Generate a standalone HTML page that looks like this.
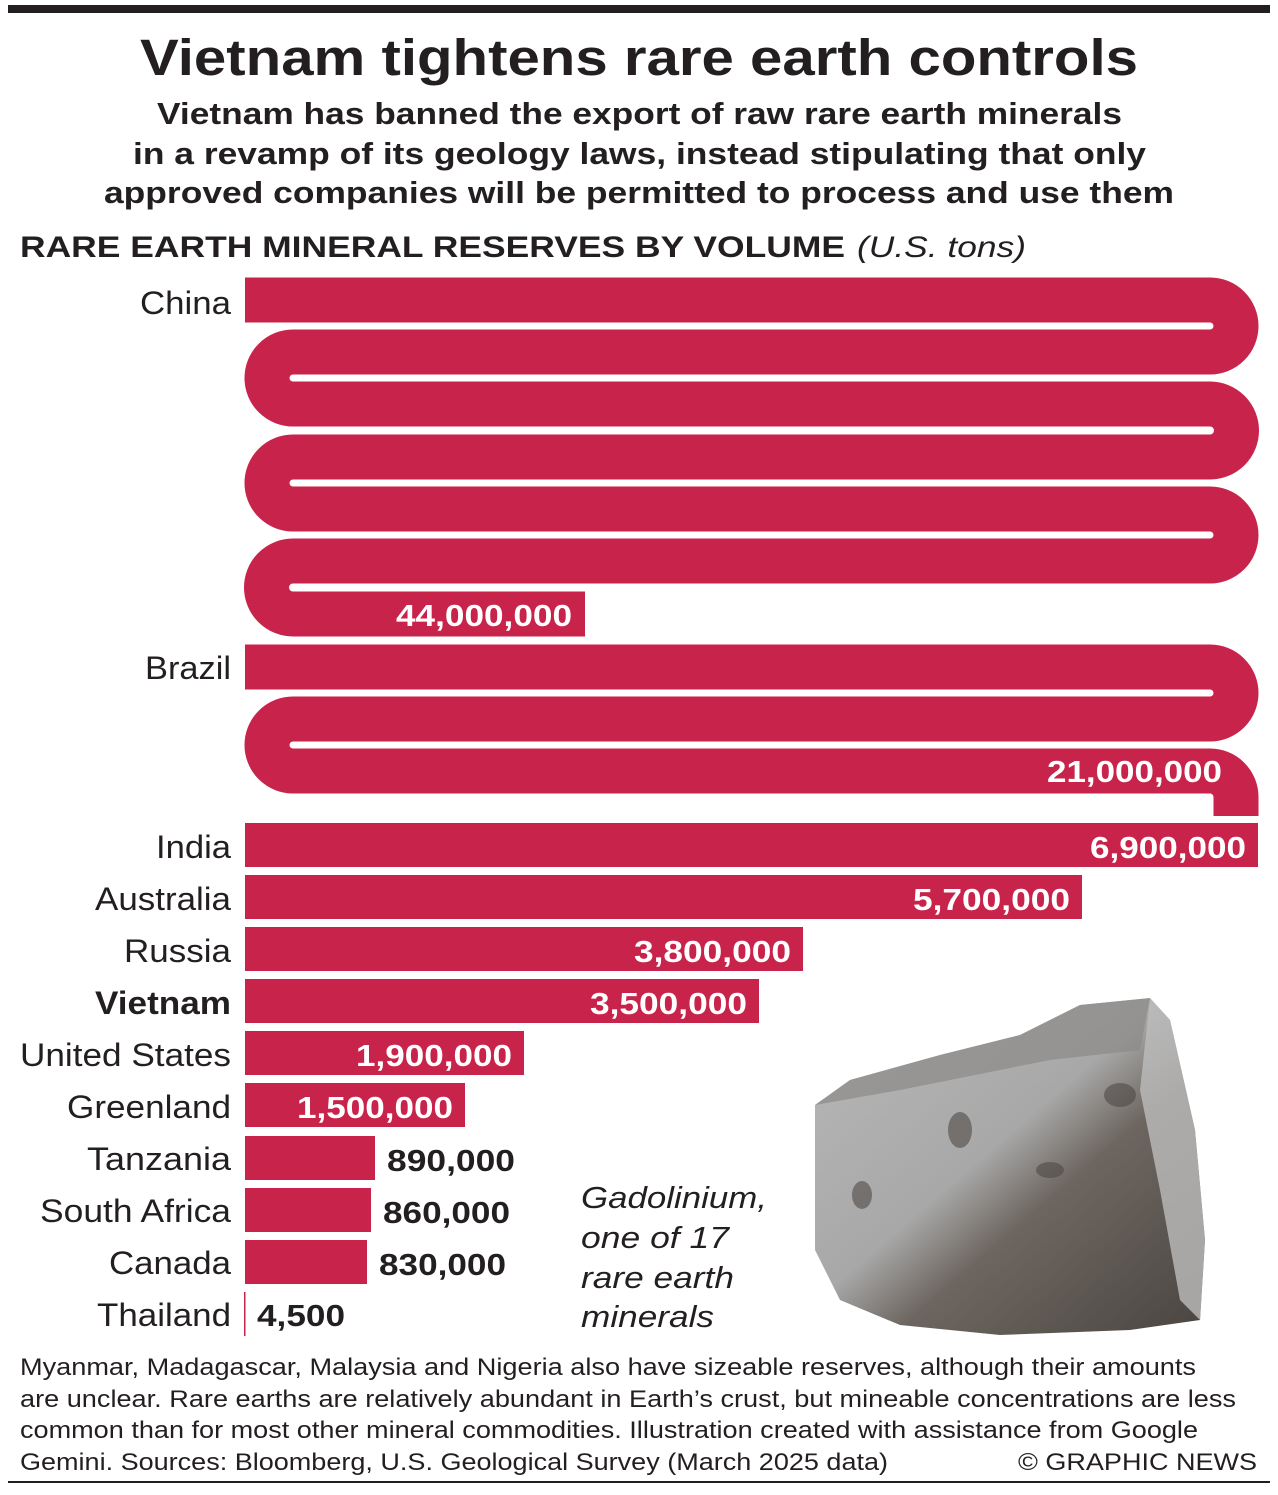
<!DOCTYPE html>
<html><head><meta charset="utf-8"><style>
body{margin:0;background:#fff;}
svg text{font-family:"Liberation Sans",Arial,sans-serif;}
</style></head><body>
<svg width="1278" height="1490" viewBox="0 0 1278 1490" xmlns="http://www.w3.org/2000/svg">
<defs>
<linearGradient id="rk" x1="0" y1="0" x2="1" y2="1">
<stop offset="0" stop-color="#b8b8b8"/><stop offset="0.45" stop-color="#a8a8a8"/><stop offset="0.6" stop-color="#6d6660"/><stop offset="1" stop-color="#4a4541"/></linearGradient>
</defs>
<rect x="8" y="5" width="1262" height="8" fill="#231f20"/>
<text x="140" y="75" font-size="51" font-weight="bold" fill="#231f20" textLength="998" lengthAdjust="spacingAndGlyphs">Vietnam tightens rare earth controls</text>
<g font-size="31" font-weight="bold" fill="#231f20">
<text x="157" y="124" textLength="965" lengthAdjust="spacingAndGlyphs">Vietnam has banned the export of raw rare earth minerals</text>
<text x="133" y="164" textLength="1013" lengthAdjust="spacingAndGlyphs">in a revamp of its geology laws, instead stipulating that only</text>
<text x="104" y="203" textLength="1070" lengthAdjust="spacingAndGlyphs">approved companies will be permitted to process and use them</text>
</g>
<text x="20" y="257" font-size="30" font-weight="bold" fill="#231f20" textLength="825" lengthAdjust="spacingAndGlyphs">RARE EARTH MINERAL RESERVES BY VOLUME</text>
<text x="857" y="257" font-size="30" font-style="italic" fill="#231f20" textLength="169" lengthAdjust="spacingAndGlyphs">(U.S. tons)</text>
<g fill="none" stroke="#c8234a" stroke-width="45">
<path d="M245 300 H1210 A26 26 0 0 1 1210 352 H293 A26 26 0 0 0 293 404 H1210 A26.5 26.5 0 0 1 1210 457 H293 A26 26 0 0 0 293 509 H1210 A26 26 0 0 1 1210 561 H293 A26.5 26.5 0 0 0 293 614 H585"/>
<path d="M245 667 H1210 A26 26 0 0 1 1210 719 H293 A26 26 0 0 0 293 771 H1210 A26 26 0 0 1 1236 797 V816"/>
</g>
<g fill="#c8234a">
<rect x="245" y="823" width="1013" height="44"/>
<rect x="245" y="875" width="837" height="44"/>
<rect x="245" y="927" width="558" height="44"/>
<rect x="245" y="979" width="514" height="44"/>
<rect x="245" y="1031" width="279" height="44"/>
<rect x="245" y="1083" width="220" height="44"/>
<rect x="245" y="1136" width="130" height="44"/>
<rect x="245" y="1188" width="126" height="44"/>
<rect x="245" y="1240" width="122" height="44"/>
<rect x="244" y="1292" width="1.5" height="44"/>
</g>
<g font-size="32" fill="#231f20" lengthAdjust="spacingAndGlyphs">
<text x="140" y="314" textLength="91" lengthAdjust="spacingAndGlyphs">China</text>
<text x="145" y="679" textLength="86" lengthAdjust="spacingAndGlyphs">Brazil</text>
<text x="156" y="858" textLength="75" lengthAdjust="spacingAndGlyphs">India</text>
<text x="95" y="910" textLength="136" lengthAdjust="spacingAndGlyphs">Australia</text>
<text x="124" y="962" textLength="107" lengthAdjust="spacingAndGlyphs">Russia</text>
<text x="95" y="1014" font-weight="bold" textLength="136" lengthAdjust="spacingAndGlyphs">Vietnam</text>
<text x="20" y="1066" textLength="211" lengthAdjust="spacingAndGlyphs">United States</text>
<text x="67" y="1118" textLength="164" lengthAdjust="spacingAndGlyphs">Greenland</text>
<text x="87" y="1170" textLength="144" lengthAdjust="spacingAndGlyphs">Tanzania</text>
<text x="40" y="1222" textLength="191" lengthAdjust="spacingAndGlyphs">South Africa</text>
<text x="109" y="1274" textLength="122" lengthAdjust="spacingAndGlyphs">Canada</text>
<text x="97" y="1326" textLength="134" lengthAdjust="spacingAndGlyphs">Thailand</text>
</g>
<g font-size="31" font-weight="bold" fill="#fff">
<text x="396" y="626" textLength="176" lengthAdjust="spacingAndGlyphs">44,000,000</text>
<text x="1047" y="782" textLength="175" lengthAdjust="spacingAndGlyphs">21,000,000</text>
<text x="1090" y="858" textLength="156" lengthAdjust="spacingAndGlyphs">6,900,000</text>
<text x="913" y="910" textLength="157" lengthAdjust="spacingAndGlyphs">5,700,000</text>
<text x="634" y="962" textLength="157" lengthAdjust="spacingAndGlyphs">3,800,000</text>
<text x="590" y="1014" textLength="157" lengthAdjust="spacingAndGlyphs">3,500,000</text>
<text x="356" y="1066" textLength="156" lengthAdjust="spacingAndGlyphs">1,900,000</text>
<text x="297" y="1118" textLength="156" lengthAdjust="spacingAndGlyphs">1,500,000</text>
</g>
<g font-size="31" font-weight="bold" fill="#231f20">
<text x="387" y="1171" textLength="128" lengthAdjust="spacingAndGlyphs">890,000</text>
<text x="383" y="1223" textLength="127" lengthAdjust="spacingAndGlyphs">860,000</text>
<text x="379" y="1275" textLength="127" lengthAdjust="spacingAndGlyphs">830,000</text>
<text x="257" y="1326" textLength="88" lengthAdjust="spacingAndGlyphs">4,500</text>
</g>
<g font-size="31" font-style="italic" fill="#231f20">
<text x="581" y="1208" textLength="186" lengthAdjust="spacingAndGlyphs">Gadolinium,</text>
<text x="581" y="1248" textLength="148" lengthAdjust="spacingAndGlyphs">one of 17</text>
<text x="581" y="1288" textLength="153" lengthAdjust="spacingAndGlyphs">rare earth</text>
<text x="581" y="1327" textLength="133" lengthAdjust="spacingAndGlyphs">minerals</text>
</g>
<polygon points="815,1105 850,1080 940,1055 1020,1035 1080,1005 1150,998 1170,1020 1195,1130 1205,1240 1200,1320 1130,1330 1000,1335 900,1325 840,1300 815,1250" fill="url(#rk)"/>
<polygon points="1150,998 1170,1020 1195,1130 1205,1240 1200,1320 1180,1300 1160,1190 1140,1090" fill="#bdbdbd" opacity="0.8"/>
<polygon points="815,1105 850,1080 940,1055 1020,1035 1080,1005 1150,998 1140,1050 1050,1060 900,1090" fill="#8c8a88" opacity="0.7"/>
<g fill="#4e4a46" opacity="0.6">
<ellipse cx="960" cy="1130" rx="12" ry="18"/><ellipse cx="1120" cy="1095" rx="16" ry="12"/><ellipse cx="862" cy="1195" rx="10" ry="14"/><ellipse cx="1050" cy="1170" rx="14" ry="8"/>
</g>
<g font-size="24" fill="#231f20">
<text x="20" y="1375" textLength="1176" lengthAdjust="spacingAndGlyphs">Myanmar, Madagascar, Malaysia and Nigeria also have sizeable reserves, although their amounts</text>
<text x="20" y="1407" textLength="1216" lengthAdjust="spacingAndGlyphs">are unclear. Rare earths are relatively abundant in Earth’s crust, but mineable concentrations are less</text>
<text x="20" y="1438" textLength="1178" lengthAdjust="spacingAndGlyphs">common than for most other mineral commodities. Illustration created with assistance from Google</text>
<text x="20" y="1470" textLength="868" lengthAdjust="spacingAndGlyphs">Gemini. Sources: Bloomberg, U.S. Geological Survey (March 2025 data)</text>
<text x="1018" y="1470" textLength="239" lengthAdjust="spacingAndGlyphs">© GRAPHIC NEWS</text>
</g>
<rect x="8" y="1481" width="1262" height="2" fill="#231f20"/>
</svg>
</body></html>
